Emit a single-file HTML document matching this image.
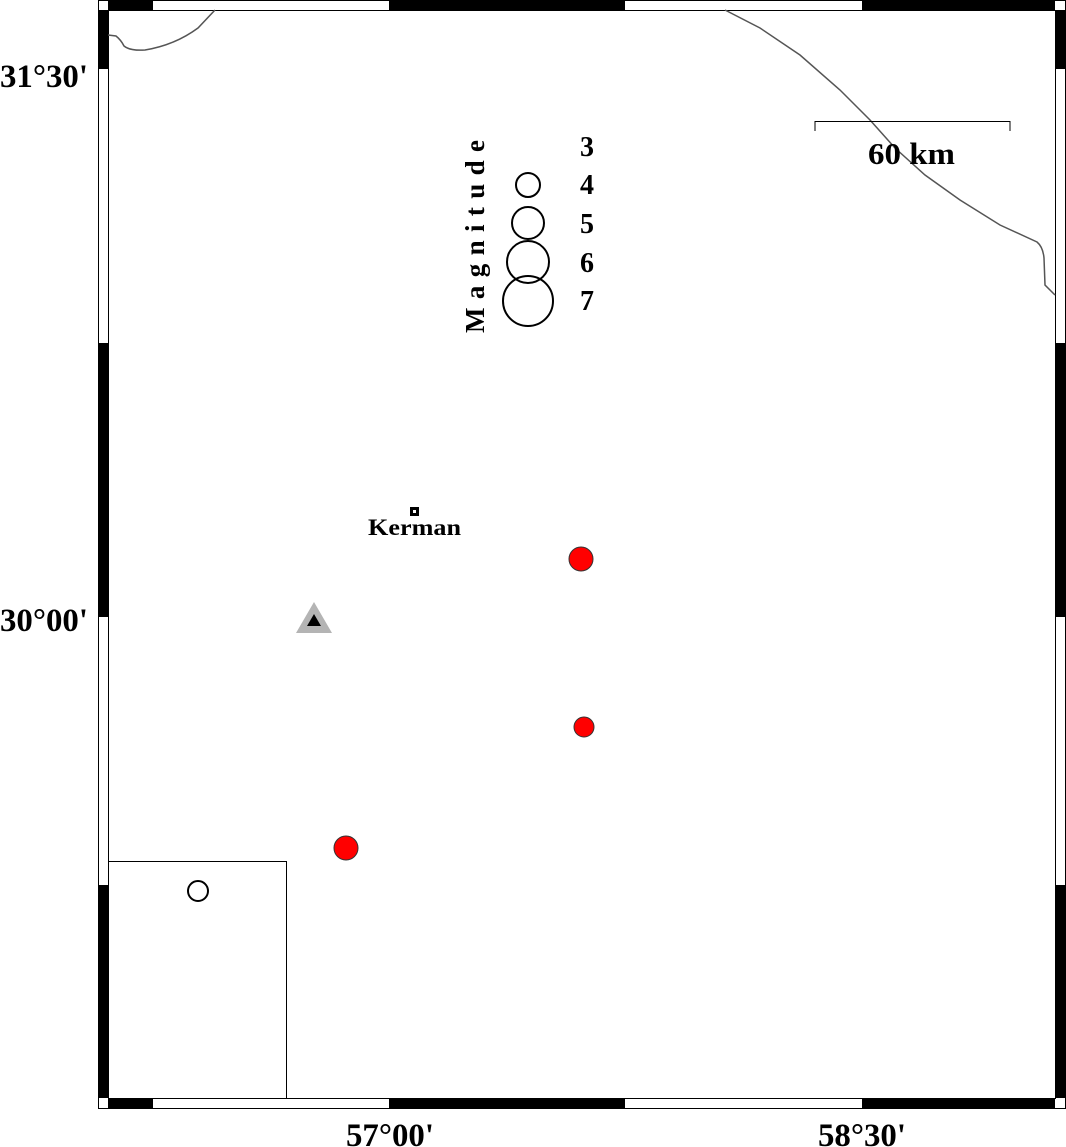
<!DOCTYPE html>
<html><head><style>html,body{margin:0;padding:0;background:#fff;}svg{display:block}</style></head>
<body>
<svg width="1066" height="1147" viewBox="0 0 1066 1147" xmlns="http://www.w3.org/2000/svg">
<g font-family="Liberation Serif, serif" font-weight="bold">
<rect x="98.5" y="0.5" width="967" height="1108" fill="#fff" stroke="#000" stroke-width="1"/>
<rect x="108.5" y="10.5" width="947" height="1088" fill="#fff" stroke="#000" stroke-width="1"/>
<g fill="#000">
<rect x="99" y="10" width="9" height="59"/><rect x="99" y="343" width="9" height="274"/><rect x="99" y="885" width="9" height="213"/>
<rect x="1056" y="10" width="9" height="59"/><rect x="1056" y="343" width="9" height="274"/><rect x="1056" y="885" width="9" height="213"/>
<rect x="108" y="1" width="45" height="9"/><rect x="389" y="1" width="236" height="9"/><rect x="862" y="1" width="193" height="9"/>
<rect x="108" y="1099" width="45" height="9"/><rect x="389" y="1099" width="236" height="9"/><rect x="862" y="1099" width="193" height="9"/>
</g>
<path d="M108 35 L116 36 Q121 40 124 46 Q130 51 145 50 Q175 45 198 28 L215 10" fill="none" stroke="#555" stroke-width="1.5"/>
<path d="M725 10 L760 28 L800 55 L840 90 L870 120 L895 148 L925 175 L960 200 L1000 225 L1037 242 Q1043 247 1044 258 L1045 285 L1055 295" fill="none" stroke="#555" stroke-width="1.5"/>
<path d="M815 131 V121.5 H1010 V131" fill="none" stroke="#000" stroke-width="1"/>
<text x="868" y="164" font-size="31" textLength="87" lengthAdjust="spacingAndGlyphs">60 km</text>
<text transform="translate(484,333) rotate(-90)" font-size="27" textLength="193" lengthAdjust="spacing">Magnitude</text>
<g fill="none" stroke="#000" stroke-width="2">
<circle cx="528" cy="185" r="12"/><circle cx="528" cy="223" r="16"/><circle cx="528" cy="262" r="21"/><circle cx="528" cy="301" r="25"/>
</g>
<g font-size="28">
<text x="580" y="156">3</text><text x="580" y="194">4</text><text x="580" y="233">5</text><text x="580" y="272">6</text><text x="580" y="310">7</text>
</g>
<rect x="410" y="507" width="9" height="9" fill="#000"/><rect x="413" y="510" width="3" height="3" fill="#fff"/>
<text x="368" y="535" font-size="23" textLength="93" lengthAdjust="spacingAndGlyphs">Kerman</text>
<polygon points="314,602 332,633 296,633" fill="#b4b4b4"/>
<polygon points="314,614 321,626 307,626" fill="#000"/>
<g fill="#f00" stroke="#333" stroke-width="1">
<circle cx="581" cy="559" r="12"/><circle cx="584" cy="727" r="10"/><circle cx="346" cy="848" r="12"/>
</g>
<rect x="108.5" y="861.5" width="178" height="237" fill="none" stroke="#000" stroke-width="1"/>
<circle cx="198" cy="891" r="10" fill="none" stroke="#000" stroke-width="2"/>
<g font-size="33">
<text x="0" y="87" textLength="88" lengthAdjust="spacingAndGlyphs">31°30'</text>
<text x="0" y="631" textLength="88" lengthAdjust="spacingAndGlyphs">30°00'</text>
<text x="346" y="1146" textLength="88" lengthAdjust="spacingAndGlyphs">57°00'</text>
<text x="818" y="1146" textLength="88" lengthAdjust="spacingAndGlyphs">58°30'</text>
</g>
</g>
</svg>
</body></html>
